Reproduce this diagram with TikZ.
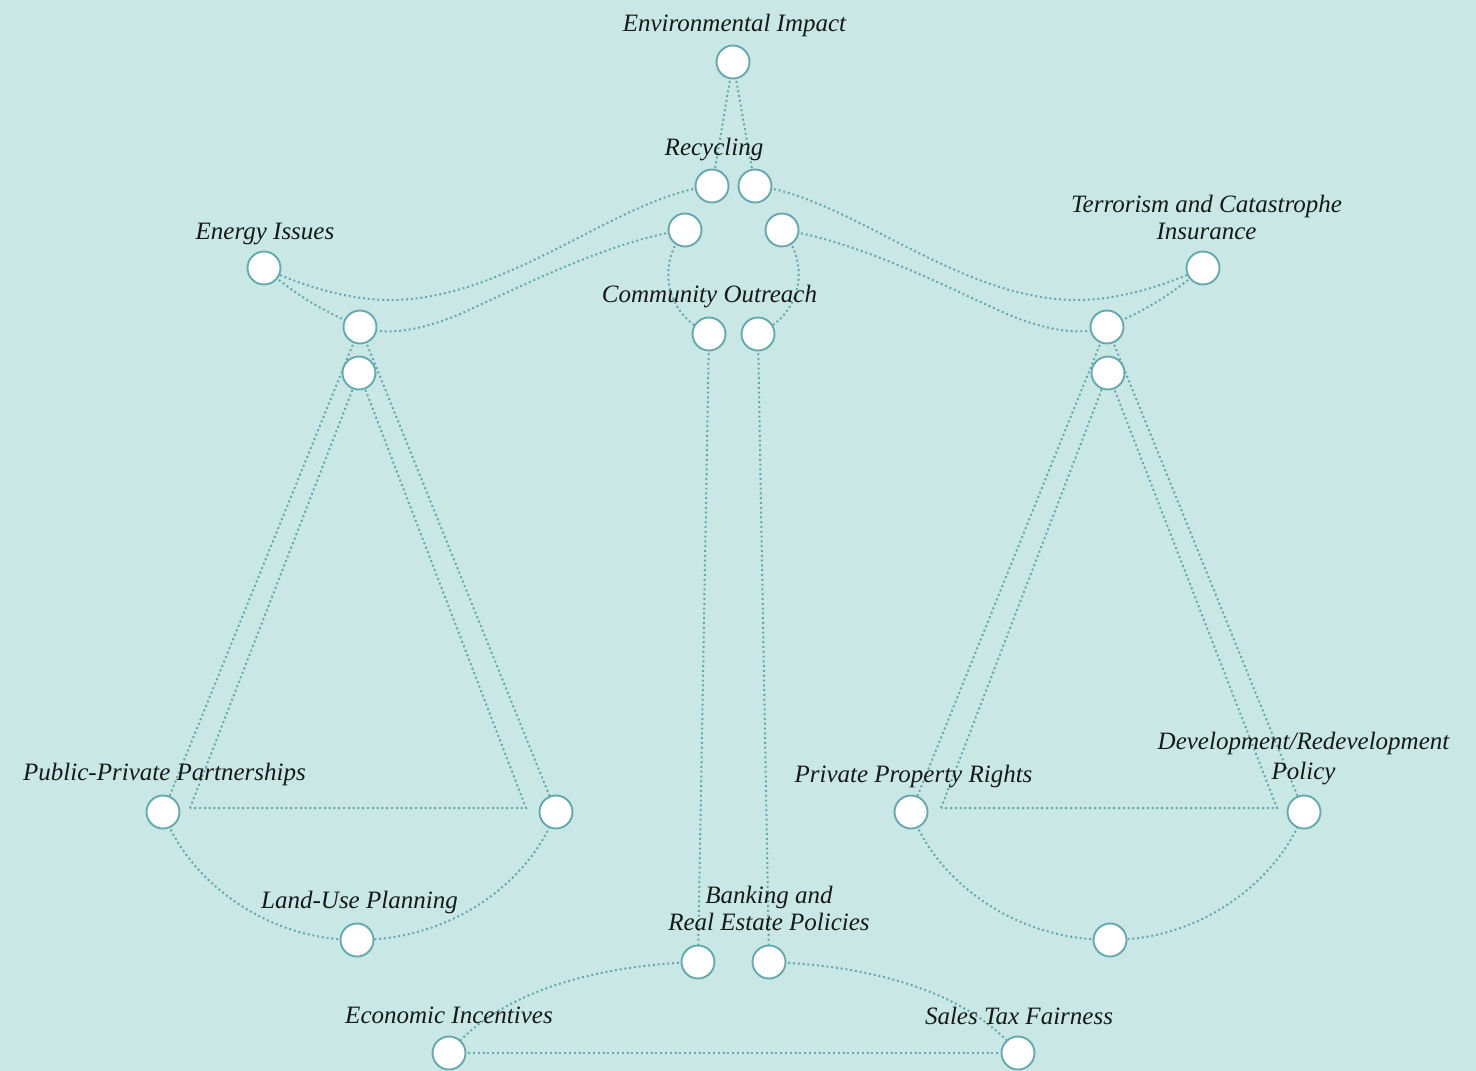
\documentclass[tikz,border=0pt]{standalone}
\usepackage{fontspec}
\setmainfont{Liberation Serif}
\usetikzlibrary{backgrounds}
\definecolor{bg}{HTML}{C9E8E5}
\definecolor{ln}{HTML}{66A8AF}
\definecolor{tx}{HTML}{151A18}
\begin{document}
\begin{tikzpicture}[x=1pt,y=-1pt,
  dot/.style={circle, draw=ln, line width=1.9pt, fill=white, minimum size=33pt, inner sep=0pt},
  conn/.style={draw=ln, line width=2pt, dash pattern=on 2pt off 2.8pt},
  lbl/.style={font=\fontsize{25}{27}\selectfont\itshape, text=tx, inner sep=0pt, align=center, anchor=base}]
\useasboundingbox (0,0) rectangle (1476,1071);
% nodes
\node[dot] (env) at (733,62) {};
\node[dot] (recL) at (712,186) {};
\node[dot] (recR) at (755,186) {};
\node[dot] (comTL) at (685,230) {};
\node[dot] (comTR) at (782,230) {};
\node[dot] (comBL) at (709,334) {};
\node[dot] (comBR) at (758,334) {};
\node[dot] (energy) at (264,268) {};
\node[dot] (terror) at (1203,268) {};
\node[dot] (pivL) at (360,327) {};
\node[dot] (pivL2) at (359,373) {};
\node[dot] (pivR) at (1107,327) {};
\node[dot] (pivR2) at (1108,373) {};
\node[dot] (ppp) at (163,812) {};
\node[dot] (lpanR) at (556,812) {};
\node[dot] (land) at (357,940) {};
\node[dot] (ppr) at (911,812) {};
\node[dot] (dev) at (1304,812) {};
\node[dot] (rbot) at (1110,940) {};
\node[dot] (bankL) at (698,962) {};
\node[dot] (bankR) at (769,962) {};
\node[dot] (econ) at (449,1053) {};
\node[dot] (sales) at (1018,1053) {};
\coordinate (triL1) at (190,808);
\coordinate (triL2) at (526,808);
\coordinate (triR1) at (941,808);
\coordinate (triR2) at (1277,808);
% labels
\node[lbl] (envT) at (734.5,31) {Environmental Impact};
\node[lbl] (recT) at (714,155) {Recycling};
\node[lbl] (energyT) at (265,239) {Energy Issues};
\node[lbl] (terrorT) at (1206.5,239) {Terrorism and Catastrophe\\Insurance};
\node[lbl] (comT) at (709.5,302) {Community Outreach};
\node[lbl] (pppT) at (164.5,780) {Public-Private Partnerships};
\node[lbl] (landT) at (359.5,908) {Land-Use Planning};
\node[lbl] (pprT) at (913.5,782) {Private Property Rights};
\node[lbl] (devT) at (1303.5,779) {Development/Redevelopment\\[3pt]Policy};
\node[lbl] (bankT) at (769,930) {Banking and\\Real Estate Policies};
\node[lbl] (econT) at (449,1023) {Economic Incentives};
\node[lbl] (salesT) at (1019,1024) {Sales Tax Fairness};
% connectors
\begin{pgfonlayer}{background}
\fill[bg] (0,0) rectangle (1476,1071);
\path[conn] (env.center) -- (recL.center);
\path[conn] (env.center) -- (recR.center);
\path[conn] (recL.center) .. controls (620,195) and (510,300) .. (390,300) .. controls (340,300) and (290,280) .. (energy.center);
\path[conn] (recR.center) .. controls (847,195) and (957,300) .. (1077,300) .. controls (1127,300) and (1177,280) .. (terror.center);
\path[conn] (comTL.center) .. controls (610,240) and (510,292) .. (460,314) .. controls (420,331) and (385,336) .. (pivL.center);
\path[conn] (comTR.center) .. controls (857,240) and (957,292) .. (1007,314) .. controls (1047,331) and (1082,336) .. (pivR.center);
\path[conn] (energy.center) to[bend right=8] (pivL.center);
\path[conn] (terror.center) to[bend left=8] (pivR.center);
\path[conn] (comTL.center) .. controls (658,262) and (662,312) .. (comBL.center);
\path[conn] (comTR.center) .. controls (809,262) and (805,312) .. (comBR.center);
\path[conn] (comBL.center) -- (bankL.center);
\path[conn] (comBR.center) -- (bankR.center);
\path[conn] (bankL.center) .. controls (600,965) and (500,990) .. (econ.center);
\path[conn] (bankR.center) .. controls (867,965) and (967,990) .. (sales.center);
\path[conn] (econ.center) -- (sales.center);
\path[conn] (pivL.center) -- (ppp.center);
\path[conn] (pivL.center) -- (lpanR.center);
\path[conn] (triL1) -- (pivL2.center) -- (triL2) -- cycle;
\path[conn] (ppp.center) .. controls (188,880) and (265,940) .. (land.center) .. controls (454,940) and (531,880) .. (lpanR.center);
\path[conn] (pivR.center) -- (ppr.center);
\path[conn] (pivR.center) -- (dev.center);
\path[conn] (triR1) -- (pivR2.center) -- (triR2) -- cycle;
\path[conn] (ppr.center) .. controls (936,880) and (1013,940) .. (rbot.center) .. controls (1202,940) and (1279,880) .. (dev.center);
\end{pgfonlayer}
\end{tikzpicture}
\end{document}
